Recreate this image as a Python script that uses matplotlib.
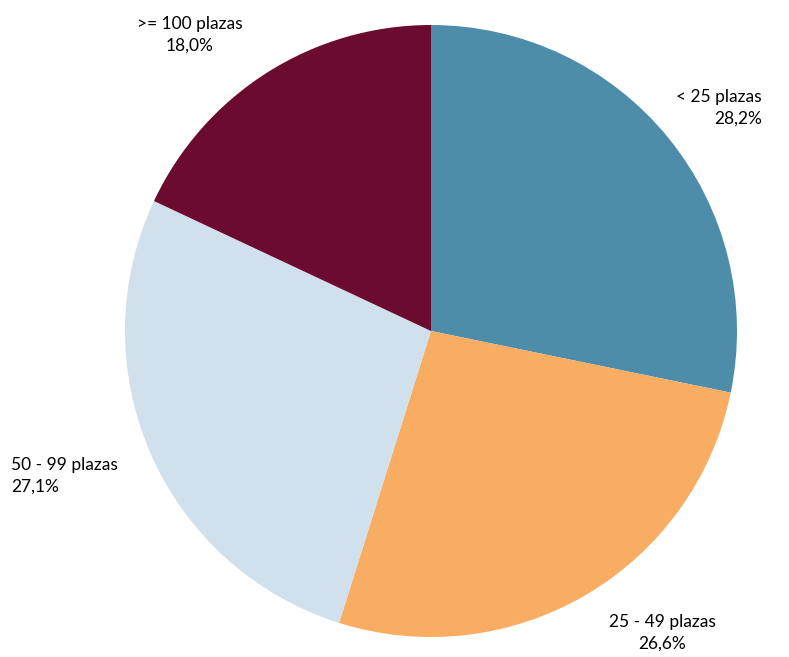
import matplotlib.pyplot as plt

categories = ['< 25 plazas', '25 - 49 plazas', '50 - 99 plazas', '>= 100 plazas']
shares = [28.2, 26.6, 27.1, 18.0]
pct_labels = ['28,2%', '26,6%', '27,1%', '18,0%']
colors = ['#4D8DAA', '#F9AD62', '#D0E0EC', '#6C0B30']

plt.rcParams['font.family'] = ['Lato', 'DejaVu Sans']

fig = plt.figure(figsize=(7.89, 6.57), dpi=100)
ax = fig.add_axes([0, 0, 1, 1])

ax.pie(shares, colors=colors, startangle=90, counterclock=False,
       center=(431, 326), radius=306, frame=True)
ax.set_xlim(0, 789)
ax.set_ylim(0, 657)
ax.set_aspect('equal')
ax.axis('off')

# label anchors in pixel space (x, y from top), alignment
label_pos = [(762, 108, 'right'), (662, 633, 'center'), (11, 476, 'left'), (190, 35, 'center')]
for cat, pct, (x, y, ha) in zip(categories, pct_labels, label_pos):
    ax.text(x, 657 - y, cat + '\n' + pct, ha=ha, va='center',
            fontsize=12.5, linespacing=1.4, multialignment=ha)

fig.savefig('out.png', dpi=100)
